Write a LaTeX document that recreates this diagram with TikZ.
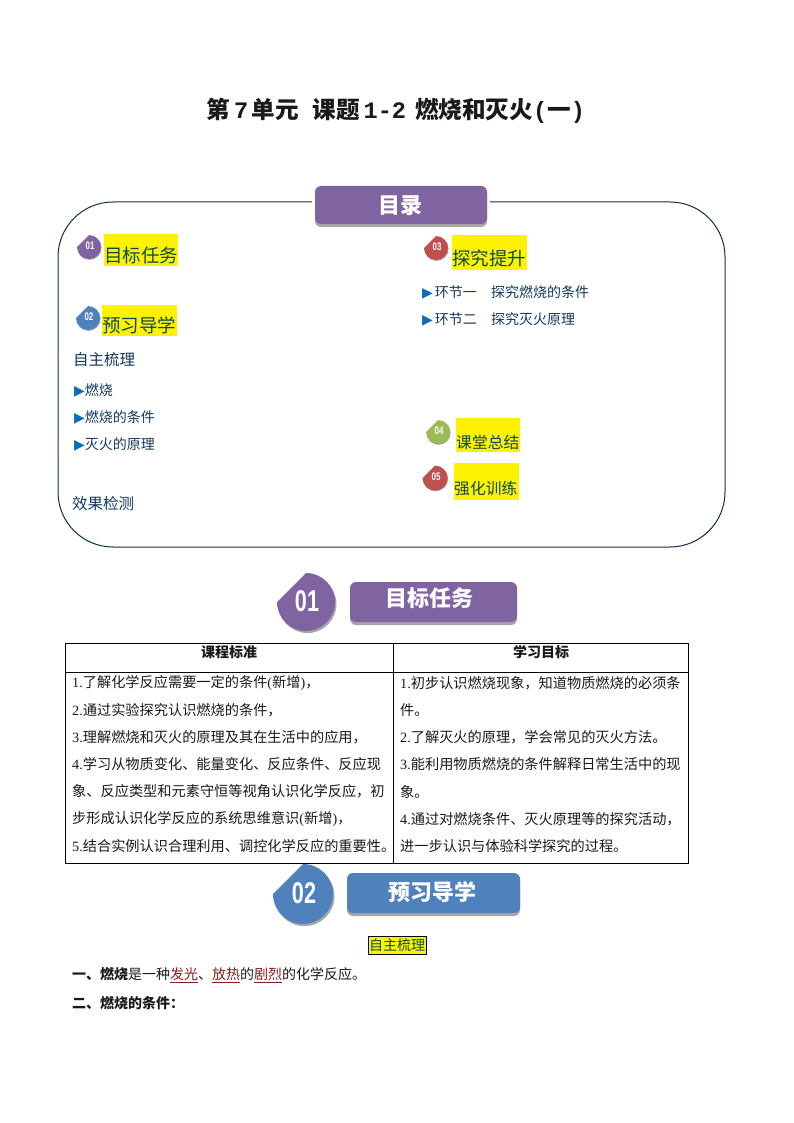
\documentclass[tikz,border=0pt]{standalone}
\usepackage{fontspec}
\setmainfont{Noto Sans CJK SC}
\newfontfamily\latf{Liberation Serif}
\newfontfamily\monf{Liberation Mono}
\newfontfamily\numf{Liberation Sans}
\newfontfamily\symf{DejaVu Sans}
\definecolor{purp}{HTML}{8064A2}
\definecolor{blu}{HTML}{4F81BD}
\definecolor{grn}{HTML}{9BBB59}
\definecolor{redd}{HTML}{C0504D}
\definecolor{shad}{HTML}{A6A6A6}
\definecolor{navy}{HTML}{12395F}
\definecolor{tealy}{HTML}{0B4A55}
\definecolor{dred}{HTML}{8C1C1C}
\definecolor{tri}{HTML}{0F6DB5}
\definecolor{ink}{HTML}{1A1A1A}
\newcommand{\fs}[1]{\fontsize{#1}{#1}\selectfont}
\newcommand{\tri}{{\symf\color{tri}\fs{14}▶}}
% \badge{name}{cx}{cy}{r}{colour}{digits}{font size}
\newcommand{\badge}[7]{%
  \fill[shad] (#2+#4*0.05,#3-#4+#4*0.07) arc[start angle=-90,end angle=180,radius=#4] -- cycle;
  \fill[#5] (#2,#3-#4) arc[start angle=-90,end angle=180,radius=#4] -- cycle;
  \node[font=\numf\bfseries\fs{#7},text=white,inner sep=0] (#1) at (#2+1,#3-1) {\scalebox{0.72}[1]{#6}};
}
% \banner{name}{x1}{y1}{x2}{y2}{colour}{text}{textx}{texty}
\newcommand{\banner}[9]{%
  \fill[shad,rounded corners=6] (#2,#3+3) rectangle (#4,#5+3);
  \fill[#6,rounded corners=6] (#2,#3) rectangle (#4,#5);
  \node[font=\bfseries\fs{22},text=white,inner sep=0] (#1) at (#8,#9) {#7};
}
\tikzset{
  x=1pt,y=-1pt,
  lbl/.style={anchor=west,inner sep=0,text=navy,yshift=-1pt},
  cell/.style={anchor=west,inner sep=0,text=ink,font=\fs{14.2},yshift=-1pt},
  head/.style={inner sep=0,text=ink,font=\bfseries\fs{14},yshift=-0.5pt},
  hl/.style={anchor=west,inner sep=0,text=tealy},
  yel/.style={fill=yellow,draw=none}
}
\begin{document}
\begin{tikzpicture}
\useasboundingbox (0,0) rectangle (794,1123);
\fill[white] (0,0) rectangle (794,1123);

\node[inner sep=0,font=\bfseries\fs{23.6},text=ink] (title) at (396,111) {第\hspace{3.5pt}{\monf 7}\hspace{3.5pt}单元\hspace{14pt}课题\hspace{3.5pt}{\monf 1-2}\hspace{9pt}燃烧和灭火{\monf (}一{\monf )}};

% contents frame
\draw[navy!80!black,line width=1pt,rounded corners=55] (312,202) -- (58,202) -- (58,547) -- (725,547) -- (725,202) -- (490,202);
\banner{mulu}{315}{186}{487}{224}{purp}{目录}{400}{206}

% left column
\badge{b1}{89}{247}{12}{purp}{01}{11}
\fill[yel] (104,234) rectangle (178,266);
\node[hl,font=\fs{18.5}] (t1) at (104,255) {目标任务};
\badge{b2}{88}{318}{12}{blu}{02}{11}
\fill[yel] (102,305) rectangle (177,336);
\node[hl,font=\fs{18.5}] (t2) at (102,325) {预习导学};
\node[lbl,font=\fs{15.5}] (zz) at (73,359) {自主梳理};
\node[lbl,font=\fs{14}] (i1) at (74,389) {\tri 燃烧};
\node[lbl,font=\fs{14}] (i2) at (74,416) {\tri 燃烧的条件};
\node[lbl,font=\fs{14}] (i3) at (74,443) {\tri 灭火的原理};
\node[lbl,font=\fs{15.5}] (xg) at (72,503) {效果检测};

% right column
\badge{b3}{436}{248}{12}{redd}{03}{11}
\fill[yel] (452,235) rectangle (527,270);
\node[hl,font=\fs{18.5}] (t3) at (452,258) {探究提升};
\node[lbl,font=\fs{14}] (j1) at (422,291) {\tri\hspace{2pt}环节一};
\node[lbl,font=\fs{14}] (j1b) at (491,291) {探究燃烧的条件};
\node[lbl,font=\fs{14}] (j2) at (422,318) {\tri\hspace{2pt}环节二};
\node[lbl,font=\fs{14}] (j2b) at (491,318) {探究灭火原理};
\badge{b4}{438}{432}{12}{grn}{04}{11}
\fill[yel] (456,418) rectangle (520,452);
\node[hl,font=\fs{15.8}] (t4) at (456,442) {课堂总结};
\badge{b5}{435}{478}{12.5}{redd}{05}{11}
\fill[yel] (454,463) rectangle (519,500);
\node[hl,font=\fs{15.8}] (t5) at (454,489) {强化训练};

% section 01
\badge{big1}{306}{602}{29}{purp}{01}{30}
\banner{ban1}{350}{582}{517}{622}{purp}{目标任务}{429}{598}

% table
\draw[black,line width=0.8pt] (65,643) rectangle (688,863);
\draw[black,line width=0.8pt] (65,672) -- (688,672);
\draw[black,line width=0.8pt] (393,643) -- (393,863);
\node[head] (h1) at (229,652) {课程标准};
\node[head] (h2) at (541,652) {学习目标};

\node[cell] (l1) at (72,682) {{\latf 1.}了解化学反应需要一定的条件{\latf (}新增{\latf )}，};
\node[cell] (l2) at (72,709) {{\latf 2.}通过实验探究认识燃烧的条件，};
\node[cell] (l3) at (72,736) {{\latf 3.}理解燃烧和灭火的原理及其在生活中的应用，};
\node[cell] (l4) at (72,763.5) {{\latf 4.}学习从物质变化、能量变化、反应条件、反应现};
\node[cell] (l5) at (72,790.5) {象、反应类型和元素守恒等视角认识化学反应，初};
\node[cell] (l6) at (72,818) {步形成认识化学反应的系统思维意识{\latf (}新增{\latf )}，};
\node[cell] (l7) at (72,845) {{\latf 5.}结合实例认识合理利用、调控化学反应的重要性。};

\node[cell] (r1) at (400,682) {{\latf 1.}初步认识燃烧现象，知道物质燃烧的必须条};
\node[cell] (r2) at (400,709) {件。};
\node[cell] (r3) at (400,736) {{\latf 2.}了解灭火的原理，学会常见的灭火方法。};
\node[cell] (r4) at (400,763.5) {{\latf 3.}能利用物质燃烧的条件解释日常生活中的现};
\node[cell] (r5) at (400,790.5) {象。};
\node[cell] (r6) at (400,818) {{\latf 4.}通过对燃烧条件、灭火原理等的探究活动，};
\node[cell] (r7) at (400,845) {进一步认识与体验科学探究的过程。};

% section 02
\badge{big2}{303}{894}{30}{blu}{02}{30}
\banner{ban2}{347}{873}{520}{913}{blu}{预习导学}{432}{892}

\node[draw=black,fill=yellow,line width=0.8pt,inner xsep=1pt,inner ysep=0pt,minimum height=18pt,text=tealy,font=\fs{14}] (zz2) at (397,945) {自主梳理};
\node[anchor=west,inner sep=0,text=ink,font=\fs{14},yshift=-1pt] (p1) at (72,974) {\textbf{一、燃烧}是一种{\color{dred}\underline{发光}}、{\color{dred}\underline{放热}}的{\color{dred}\underline{剧烈}}的化学反应。};
\node[anchor=west,inner sep=0,text=ink,font=\bfseries\fs{14},yshift=-1pt] (p2) at (72,1002) {二、燃烧的条件：};
\end{tikzpicture}
\end{document}
